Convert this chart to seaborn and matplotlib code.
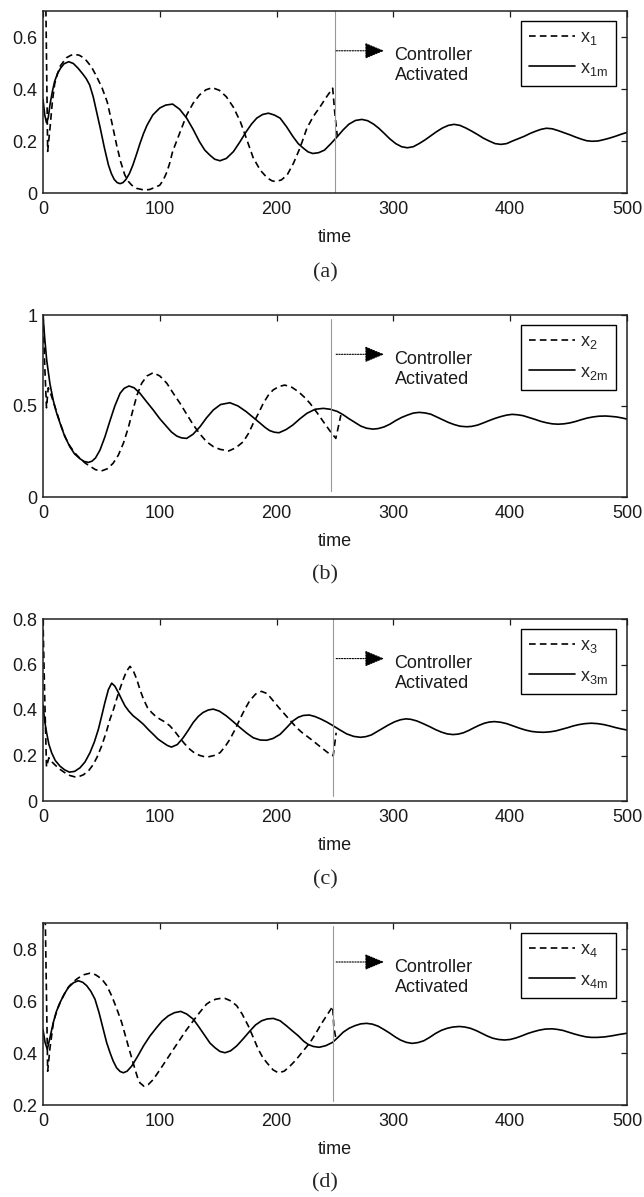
import numpy as np
import pandas as pd
import matplotlib
matplotlib.use("Agg")
import matplotlib.pyplot as plt
import seaborn as sns

# valeurs, paires (time, valeur)
# (a)
x1m = [[0, 0.36], [1.5, 0.30], [3, 0.27], [4.5, 0.29], [6, 0.34], [8, 0.39], [10, 0.43], [12.5, 0.46], [15, 0.48], [18, 0.497],
       [22, 0.505], [26, 0.498], [30, 0.48], [34, 0.458], [37, 0.44], [40, 0.415], [43, 0.37], [46, 0.31], [49, 0.25], [52.5, 0.175],
       [56, 0.108], [58.5, 0.075], [61, 0.052], [63.5, 0.04], [66, 0.036], [68.5, 0.04], [71, 0.052], [74, 0.075], [77, 0.108], [80, 0.148],
       [83, 0.19], [86, 0.228], [89, 0.26], [94, 0.30], [100, 0.327], [105, 0.338], [111, 0.342], [117, 0.322], [123, 0.288], [128.5, 0.245],
       [134, 0.197], [138.5, 0.165], [143, 0.145], [147, 0.13], [151.5, 0.124], [157, 0.133], [163, 0.159], [168.5, 0.196], [174, 0.236], [178.5, 0.265],
       [183, 0.288], [188, 0.302], [193, 0.307], [198, 0.30], [203, 0.288], [208.5, 0.255], [214, 0.217], [218.5, 0.19], [223, 0.172], [227, 0.158],
       [231, 0.152], [236, 0.155], [241, 0.165], [246.5, 0.19], [252, 0.217], [257, 0.243], [262, 0.265], [267.5, 0.279], [273, 0.283], [278, 0.278],
       [283, 0.265], [287.5, 0.249], [292, 0.23], [297, 0.208], [302, 0.19], [307, 0.178], [312, 0.174], [317, 0.178], [322, 0.19], [327, 0.204],
       [332, 0.22], [337, 0.236], [342, 0.25], [347, 0.26], [352, 0.264], [357, 0.26], [362, 0.25], [367, 0.238], [372, 0.225], [377, 0.211],
       [382, 0.20], [387, 0.19], [392, 0.187], [397, 0.19], [402, 0.20], [407, 0.209], [412, 0.218], [417, 0.229], [422, 0.238], [426.5, 0.245],
       [431, 0.249], [436, 0.247], [441, 0.24], [446, 0.232], [451, 0.224], [456, 0.215], [461, 0.207], [465.5, 0.201], [470, 0.199], [475, 0.20],
       [480, 0.205], [485, 0.211], [490, 0.218], [495, 0.226], [500, 0.233]]
x1 = [[0, 0.95], [2.5, 0.70], [4, 0.16], [6, 0.25], [8, 0.35], [10, 0.42], [12.5, 0.46], [15, 0.49], [20, 0.52], [24, 0.53],
      [27, 0.533], [31, 0.53], [34, 0.522], [37, 0.51], [41.5, 0.485], [46, 0.447], [50.5, 0.405], [55, 0.35], [59, 0.27], [63, 0.185],
      [66.5, 0.12], [70, 0.07], [73, 0.045], [76, 0.03], [80, 0.018], [86, 0.012], [91, 0.013], [95, 0.02], [100, 0.03], [103, 0.05],
      [106, 0.08], [108.5, 0.115], [111, 0.16], [114, 0.195], [117, 0.23], [120, 0.265], [123, 0.30], [128.5, 0.345], [134, 0.377], [139.5, 0.397],
      [145, 0.405], [151, 0.395], [157, 0.37], [163, 0.33], [169, 0.274], [174.5, 0.205], [180, 0.135], [186, 0.088], [192, 0.058], [196, 0.047],
      [199, 0.044], [204, 0.05], [209, 0.069], [214.5, 0.115], [220, 0.173], [226, 0.25], [231.5, 0.295], [237, 0.33], [242.5, 0.368], [248, 0.403],
      [250, 0.30], [252, 0.217]]

# (b)
x2m = [[0, 1.0], [1.5, 0.87], [3.2, 0.75], [6, 0.62], [8.8, 0.53], [11.5, 0.465], [14.6, 0.405], [18.5, 0.335], [23, 0.276], [27, 0.237],
       [31.7, 0.21], [35, 0.196], [38.8, 0.19], [42, 0.197], [45, 0.215], [48.8, 0.258], [53, 0.33], [57.4, 0.42], [61.5, 0.50], [66, 0.57],
       [69.5, 0.597], [73.6, 0.61], [78, 0.60], [83, 0.57], [88.5, 0.525], [94.4, 0.478], [100, 0.43], [106, 0.386], [110, 0.357], [114.5, 0.335],
       [118.5, 0.325], [123, 0.322], [128.5, 0.345], [134.4, 0.386], [140, 0.435], [145.8, 0.478], [152, 0.508], [160, 0.518], [167, 0.50], [174, 0.469],
       [180, 0.437], [186, 0.405], [190, 0.383], [194, 0.365], [198, 0.356], [202, 0.353], [208, 0.37], [214, 0.396], [220, 0.43], [226, 0.46],
       [233, 0.482], [240, 0.487], [246, 0.482], [252, 0.47], [257, 0.452], [262, 0.43], [267, 0.41], [272, 0.39], [277, 0.378], [282.5, 0.373],
       [287, 0.376], [292, 0.385], [297, 0.40], [302, 0.42], [307, 0.437], [312, 0.45], [317, 0.461], [322, 0.465], [327, 0.462], [332, 0.455],
       [337, 0.44], [342, 0.425], [347, 0.41], [352, 0.398], [357, 0.389], [362.8, 0.386], [367, 0.388], [372, 0.395], [377, 0.407], [382, 0.42],
       [387, 0.432], [392, 0.442], [397, 0.45], [401.6, 0.454], [406, 0.452], [411, 0.447], [416, 0.437], [421, 0.427], [426, 0.416], [431, 0.408],
       [436, 0.402], [441, 0.40], [446, 0.402], [451, 0.407], [456, 0.415], [461, 0.425], [466, 0.434], [471, 0.44], [476, 0.444], [481.7, 0.445],
       [486, 0.443], [491, 0.44], [496, 0.434], [500, 0.428]]
x2 = [[0, 1.0], [1.5, 0.72], [3, 0.49], [4.5, 0.60], [7, 0.56], [10, 0.50], [15, 0.40], [19, 0.33], [23, 0.28], [27.5, 0.24],
      [32, 0.21], [36, 0.187], [40, 0.17], [45, 0.15], [50, 0.143], [55, 0.155], [60, 0.185], [64.5, 0.23], [68.8, 0.295], [73, 0.38],
      [77, 0.478], [80.5, 0.56], [84.5, 0.625], [89, 0.665], [94.4, 0.683], [100, 0.665], [106, 0.625], [111.5, 0.57], [117.3, 0.515], [123, 0.455],
      [128.7, 0.396], [134.5, 0.345], [140, 0.304], [146, 0.276], [151.5, 0.262], [159, 0.253], [165, 0.27], [171.5, 0.304], [176, 0.35], [180, 0.405],
      [184.5, 0.46], [188.6, 0.515], [193, 0.56], [197, 0.588], [202, 0.607], [207, 0.615], [213, 0.603], [218.6, 0.579], [223.5, 0.55], [228.6, 0.515],
      [235, 0.46], [241, 0.405], [246, 0.36], [250.7, 0.322], [253, 0.39], [255, 0.45]]

# (c)
x3m = [[0, 0.42], [1.5, 0.35], [3.1, 0.30], [5, 0.25], [7.4, 0.212], [10.5, 0.178], [14.6, 0.153], [18.5, 0.137], [22.5, 0.127], [27, 0.13],
       [31.7, 0.146], [36, 0.172], [40.2, 0.212], [44, 0.26], [47.4, 0.315], [50.3, 0.375], [53, 0.433], [56, 0.49], [58.8, 0.518], [61.5, 0.505],
       [64.5, 0.477], [67.5, 0.445], [70.2, 0.418], [73.5, 0.395], [77.3, 0.374], [81.5, 0.357], [86, 0.337], [90, 0.315], [94.4, 0.293], [98.5, 0.272],
       [103, 0.256], [106.5, 0.244], [110, 0.237], [115, 0.248], [120, 0.278], [124.5, 0.312], [128.6, 0.345], [133, 0.372], [137, 0.389], [141.5, 0.40],
       [145.8, 0.404], [151, 0.395], [157, 0.374], [163, 0.348], [168.6, 0.323], [174.5, 0.298], [180, 0.278], [186, 0.268], [191.5, 0.267], [197, 0.275],
       [203, 0.293], [208.5, 0.322], [214, 0.352], [218.5, 0.368], [222.8, 0.376], [228, 0.378], [233, 0.371], [238, 0.36], [243, 0.347], [248, 0.332],
       [254, 0.313], [260, 0.295], [266, 0.284], [271.8, 0.28], [276.5, 0.283], [281, 0.29], [286, 0.305], [291, 0.32], [296, 0.335], [301, 0.348],
       [306, 0.357], [310.6, 0.361], [315, 0.359], [320, 0.352], [325.5, 0.34], [331, 0.327], [336, 0.314], [341, 0.303], [346, 0.295], [351, 0.292],
       [355.5, 0.294], [360, 0.30], [364.5, 0.31], [369, 0.322], [373.5, 0.333], [378, 0.342], [382, 0.347], [386.5, 0.349], [392, 0.346], [397, 0.34],
       [402.5, 0.33], [408, 0.32], [413, 0.312], [418, 0.306], [423, 0.303], [428.8, 0.302], [434, 0.304], [439, 0.308], [444, 0.315], [449, 0.322],
       [454, 0.33], [459, 0.336], [464, 0.34], [469.4, 0.342], [475, 0.34], [480, 0.336], [485, 0.33], [490, 0.323], [495, 0.317], [500, 0.312]]
x3 = [[0, 0.80], [1.5, 0.45], [3, 0.15], [5, 0.19], [8, 0.17], [11, 0.155], [14.6, 0.139], [18.5, 0.125], [23, 0.112], [27.4, 0.106],
      [31, 0.108], [34.5, 0.115], [39, 0.133], [43, 0.16], [46.5, 0.195], [50.2, 0.242], [54, 0.30], [57.4, 0.36], [60.5, 0.405], [63, 0.448],
      [66, 0.495], [68.8, 0.536], [71.5, 0.57], [74.5, 0.592], [77.5, 0.57], [80.2, 0.536], [83, 0.49], [86, 0.448], [89.5, 0.41], [93, 0.389],
      [96.5, 0.372], [100, 0.36], [104.5, 0.347], [108.7, 0.33], [113, 0.305], [117, 0.278], [121.5, 0.25], [125.8, 0.227], [130, 0.21], [134.4, 0.20],
      [138, 0.195], [141.5, 0.194], [146.5, 0.20], [151.5, 0.212], [156, 0.24], [160, 0.271], [164.5, 0.315], [168.6, 0.36], [173, 0.405], [177, 0.441],
      [182, 0.47], [187, 0.482], [192, 0.472], [197, 0.441], [202, 0.41], [207, 0.381], [212, 0.352], [217, 0.323], [221.5, 0.302], [225.7, 0.286],
      [231, 0.265], [237, 0.24], [242, 0.22], [247, 0.20], [248.5, 0.20], [251, 0.30]]

# (d)
x4m = [[0, 0.49], [1.8, 0.44], [3.7, 0.414], [6, 0.46], [8.8, 0.517], [11.5, 0.56], [14.6, 0.594], [18, 0.625], [21.7, 0.652], [26, 0.67],
       [30.2, 0.678], [34, 0.672], [37.4, 0.659], [41, 0.637], [44.5, 0.607], [48, 0.555], [51.6, 0.491], [54.5, 0.44], [57.4, 0.401], [60, 0.37],
       [63, 0.343], [66, 0.329], [68.8, 0.324], [72, 0.33], [76, 0.35], [81, 0.387], [86, 0.427], [91.5, 0.465], [97.3, 0.498], [102, 0.523],
       [107.3, 0.543], [112.5, 0.555], [117.9, 0.56], [123, 0.55], [128.7, 0.53], [133.5, 0.50], [138.7, 0.466], [143, 0.438], [147.3, 0.42], [151.5, 0.406],
       [155.8, 0.401], [160.5, 0.408], [165.8, 0.427], [171.5, 0.455], [177.2, 0.485], [182, 0.508], [187.2, 0.524], [192, 0.531], [197.2, 0.533], [203, 0.524],
       [208.6, 0.504], [213.5, 0.485], [218.6, 0.466], [223, 0.446], [227, 0.433], [231.5, 0.425], [236.5, 0.422], [242, 0.428], [248, 0.441], [252.5, 0.46],
       [257, 0.48], [262, 0.495], [267, 0.505], [272, 0.512], [277, 0.514], [282, 0.511], [287, 0.503], [292, 0.49], [297, 0.476], [301.5, 0.462],
       [306, 0.45], [311, 0.441], [316, 0.437], [321, 0.44], [326, 0.447], [331, 0.46], [336, 0.475], [341, 0.487], [346, 0.495], [351, 0.50],
       [356.5, 0.502], [361, 0.50], [366, 0.495], [371, 0.486], [376, 0.475], [380.5, 0.465], [385, 0.457], [390, 0.452], [395, 0.45], [400, 0.452],
       [405, 0.458], [410, 0.466], [415, 0.475], [420, 0.482], [425, 0.488], [430, 0.492], [435.8, 0.493], [440, 0.491], [445, 0.487], [450, 0.48],
       [455, 0.473], [460, 0.467], [465, 0.462], [469.5, 0.46], [474.6, 0.46], [481, 0.462], [487, 0.466], [493, 0.471], [500, 0.476]]
x4 = [[0, 1.0], [2, 0.90], [4, 0.33], [6, 0.42], [9, 0.52], [12, 0.565], [15, 0.598], [18.5, 0.628], [22, 0.655], [26, 0.674],
      [30, 0.688], [35, 0.701], [40.2, 0.707], [45, 0.701], [50.2, 0.685], [54.5, 0.66], [58.8, 0.62], [63, 0.572], [67.4, 0.517], [70, 0.475],
      [73, 0.427], [76, 0.38], [78.8, 0.337], [81, 0.305], [83, 0.285], [86.5, 0.272], [90, 0.278], [94.4, 0.298], [100, 0.335], [105.9, 0.375],
      [111.5, 0.413], [117.3, 0.452], [123, 0.49], [128.7, 0.524], [134.5, 0.558], [140, 0.588], [144, 0.60], [148, 0.607], [152, 0.61], [155.8, 0.61],
      [161, 0.60], [165.8, 0.582], [170.5, 0.55], [175.8, 0.504], [180, 0.46], [184.3, 0.414], [188.5, 0.38], [192.9, 0.356], [197, 0.335], [201.4, 0.324],
      [206.5, 0.33], [211.5, 0.35], [216.5, 0.373], [221.5, 0.401], [228.6, 0.44], [233.5, 0.475], [238, 0.51], [243, 0.545], [248, 0.579], [249, 0.50],
      [251, 0.45]]

panels = [
    dict(d=x1, m=x1m, lab="x$_{1}$", labm="x$_{1m}$", ylim=(0, 0.7), yticks=[0, 0.2, 0.4, 0.6],
         yticklabels=["0", "0.2", "0.4", "0.6"], tact=250, vspan=(0, 1), yarr=0.547, ytxt=0.49, name="(a)"),
    dict(d=x2, m=x2m, lab="x$_{2}$", labm="x$_{2m}$", ylim=(0, 1), yticks=[0, 0.5, 1],
         yticklabels=["0", "0.5", "1"], tact=247, vspan=(0.033, 0.98), yarr=0.784, ytxt=0.70, name="(b)"),
    dict(d=x3, m=x3m, lab="x$_{3}$", labm="x$_{3m}$", ylim=(0, 0.8), yticks=[0, 0.2, 0.4, 0.6, 0.8],
         yticklabels=["0", "0.2", "0.4", "0.6", "0.8"], tact=248, vspan=(0.025, 1), yarr=0.626, ytxt=0.561, name="(c)"),
    dict(d=x4, m=x4m, lab="x$_{4}$", labm="x$_{4m}$", ylim=(0.2, 0.9), yticks=[0.2, 0.4, 0.6, 0.8],
         yticklabels=["0.2", "0.4", "0.6", "0.8"], tact=248, vspan=(0.02, 0.986), yarr=0.750, ytxt=0.69, name="(d)"),
]

sns.set_theme(style="white")
plt.rcParams["font.family"] = ["Liberation Sans", "DejaVu Sans"]
plt.rcParams["mathtext.fontset"] = "custom"
plt.rcParams["mathtext.rm"] = "Liberation Sans"
plt.rcParams["mathtext.it"] = "Liberation Sans:italic"
plt.rcParams["mathtext.default"] = "regular"

W, H = 644, 1197
fig = plt.figure(figsize=(W / 100, H / 100), dpi=100)

tops = [11, 315, 619, 923]
ah = 182
label_y = [273, 575, 880, 1183]

for i, p in enumerate(panels):
    ax = fig.add_axes([43 / W, 1 - (tops[i] + ah) / H, 584 / W, ah / H])
    dd = pd.DataFrame(p["d"], columns=["time", "x"])
    dm = pd.DataFrame(p["m"], columns=["time", "x"])
    sns.lineplot(data=dd, x="time", y="x", ax=ax, color="black", linewidth=1.2,
                 linestyle=(0, (4, 2.5)), estimator=None, sort=False, label=p["lab"])
    sns.lineplot(data=dm, x="time", y="x", ax=ax, color="black", linewidth=1.2,
                 estimator=None, sort=False, label=p["labm"])
    ax.axvline(p["tact"], ymin=p["vspan"][0], ymax=p["vspan"][1], color="0.6", linewidth=0.8)

    # fleche "Controller Activated"
    ax.annotate("", xy=(292, p["yarr"]), xytext=(251, p["yarr"]),
                arrowprops=dict(arrowstyle="-|>,head_length=0.6,head_width=0.25", linestyle=(0, (1.2, 1.2)),
                                color="black", lw=0.8, mutation_scale=20, shrinkA=0, shrinkB=0))
    ax.text(301, p["ytxt"], "Controller\nActivated", fontsize=13, ha="left", va="center",
            linespacing=1.25, color="#1a1a1a")

    ax.set_xlim(0, 500)
    ax.set_ylim(*p["ylim"])
    ax.set_xticks([0, 100, 200, 300, 400, 500])
    ax.set_yticks(p["yticks"])
    ax.set_yticklabels(p["yticklabels"])
    ax.tick_params(direction="in", length=4, width=0.9, top=True, right=True,
                   labelsize=13, colors="#1a1a1a", pad=4)
    ax.tick_params(axis="x", pad=6)
    ax.set_xlabel("time", fontsize=13, labelpad=8, color="#1a1a1a")
    ax.set_ylabel("")
    for s in ax.spines.values():
        s.set_color("#222222")
        s.set_linewidth(1.1)

    leg = ax.legend(loc="upper right", bbox_to_anchor=(1 - 11 / 584, 1 - 10 / 182), borderaxespad=0,
                    fontsize=13, handlelength=2.5, handletextpad=0.3, labelspacing=0.7,
                    fancybox=False, framealpha=1, edgecolor="black", borderpad=0.45)
    leg.get_frame().set_linewidth(1.0)

    fig.text(325 / W, 1 - label_y[i] / H, p["name"], ha="center", va="center",
             fontsize=16, family=["Liberation Serif", "DejaVu Serif"])

fig.savefig("out.png", dpi=100)
plt.close()
